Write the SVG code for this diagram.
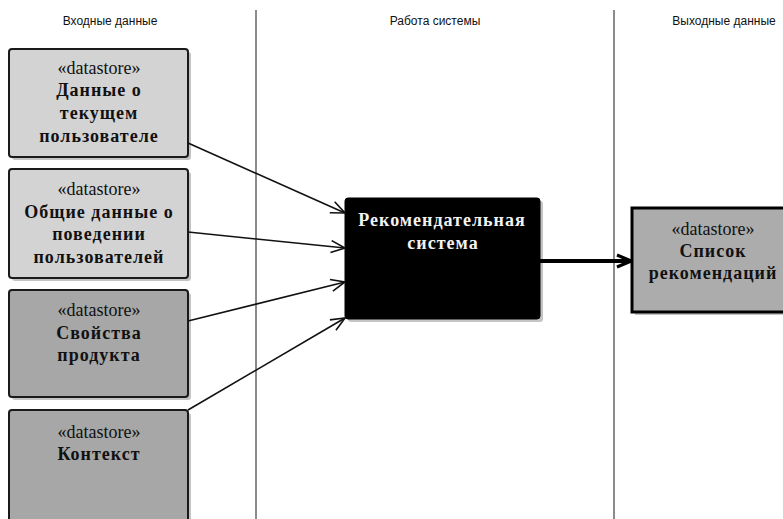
<svg xmlns="http://www.w3.org/2000/svg" width="783" height="519" viewBox="0 0 783 519">
  <style>
    .lane { stroke: #6e6e6e; stroke-width: 1.6; fill: none; }
    .hdr { font-family: "Liberation Sans", Arial, sans-serif; font-size: 12px; fill: #111; text-anchor: middle; }
    .store { stroke: #1a1a1a; stroke-width: 2; }
    .light { fill: #d3d3d3; }
    .dark { fill: #a7a7a7; }
    .shadow { fill: #c4c4c4; }
    .stereo { font-family: "Liberation Serif", "Times New Roman", serif; font-size: 18px; fill: #111; text-anchor: middle; }
    .title { font-family: "Liberation Serif", "Times New Roman", serif; font-size: 18px; font-weight: bold; letter-spacing: 1px; fill: #111; text-anchor: middle; }
    .inv { fill: #f2f2f2; }
    .flow { stroke: #111; stroke-width: 1.6; fill: none; }
    .out { stroke: #000; stroke-width: 4; fill: none; }
  </style>
  <defs>
    <marker id="open" markerUnits="userSpaceOnUse" viewBox="0 0 16 14" refX="15" refY="7" markerWidth="16" markerHeight="14" orient="auto">
      <path d="M1,1 L15,7 L1,13" fill="none" stroke="#111" stroke-width="1.6"/>
    </marker>
    <marker id="openBold" markerUnits="userSpaceOnUse" viewBox="0 0 18 16" refX="16" refY="8" markerWidth="18" markerHeight="16" orient="auto">
      <path d="M2,2 L16,8 L2,14" fill="none" stroke="#000" stroke-width="3.2"/>
    </marker>
  </defs>

  <rect width="783" height="519" fill="#ffffff"/>

  <!-- swimlanes -->
  <g id="lanes">
    <line class="lane" x1="256" y1="10" x2="256" y2="519"/>
    <line class="lane" x1="614" y1="10" x2="614" y2="519"/>
    <text class="hdr" x="110" y="25">Входные данные</text>
    <text class="hdr" x="435" y="25">Работа системы</text>
    <text class="hdr" x="724" y="25">Выходные данные</text>
  </g>

  <!-- input data stores -->
  <g id="user-data">
    <rect class="shadow" x="12" y="52" width="179" height="108" rx="3"/>
    <rect class="store light" x="9" y="49" width="179" height="108" rx="3"/>
    <text class="stereo" x="99" y="74">«datastore»</text>
    <text class="title" x="99" y="96">Данные о</text>
    <text class="title" x="99" y="119">текущем</text>
    <text class="title" x="99" y="142">пользователе</text>
  </g>

  <g id="behaviour-data">
    <rect class="shadow" x="12" y="172" width="179" height="109" rx="3"/>
    <rect class="store light" x="9" y="169" width="179" height="109" rx="3"/>
    <text class="stereo" x="99" y="195">«datastore»</text>
    <text class="title" x="99" y="218">Общие данные о</text>
    <text class="title" x="99" y="240">поведении</text>
    <text class="title" x="99" y="263">пользователей</text>
  </g>

  <g id="product-props">
    <rect class="shadow" x="12" y="293" width="179" height="107" rx="3"/>
    <rect class="store dark" x="9" y="290" width="179" height="107" rx="3"/>
    <text class="stereo" x="99" y="316">«datastore»</text>
    <text class="title" x="99" y="339">Свойства</text>
    <text class="title" x="99" y="361">продукта</text>
  </g>

  <g id="context">
    <rect class="shadow" x="12" y="413" width="179" height="115" rx="3"/>
    <rect class="store dark" x="9" y="410" width="179" height="115" rx="3"/>
    <text class="stereo" x="99" y="438">«datastore»</text>
    <text class="title" x="99" y="460">Контекст</text>
  </g>

  <!-- processing -->
  <g id="recommender">
    <rect x="348" y="201" width="195" height="121" rx="3" fill="#c4c4c4"/>
    <rect x="345" y="198" width="195" height="121" rx="3" fill="#000" stroke="#000" stroke-width="1"/>
    <text class="title inv" x="442" y="226">Рекомендательная</text>
    <text class="title inv" x="443" y="249">система</text>
  </g>

  <!-- output data store -->
  <g id="recommendations">
    <rect x="635" y="211" width="160" height="104" fill="#c4c4c4"/>
    <rect x="632" y="208" width="160" height="104" fill="#acacac" stroke="#000" stroke-width="3"/>
    <text class="stereo" x="713" y="235">«datastore»</text>
    <text class="title" x="713" y="257">Список</text>
    <text class="title" x="713" y="279">рекомендаций</text>
  </g>

  <!-- connectors -->
  <g id="connectors">
    <line class="flow" x1="188" y1="143" x2="345" y2="213" marker-end="url(#open)"/>
    <line class="flow" x1="188" y1="232" x2="345" y2="248" marker-end="url(#open)"/>
    <line class="flow" x1="188" y1="321" x2="345" y2="282" marker-end="url(#open)"/>
    <line class="flow" x1="188" y1="410" x2="345" y2="318" marker-end="url(#open)"/>
    <line class="out" x1="540" y1="261" x2="631" y2="261" marker-end="url(#openBold)"/>
  </g>
</svg>
